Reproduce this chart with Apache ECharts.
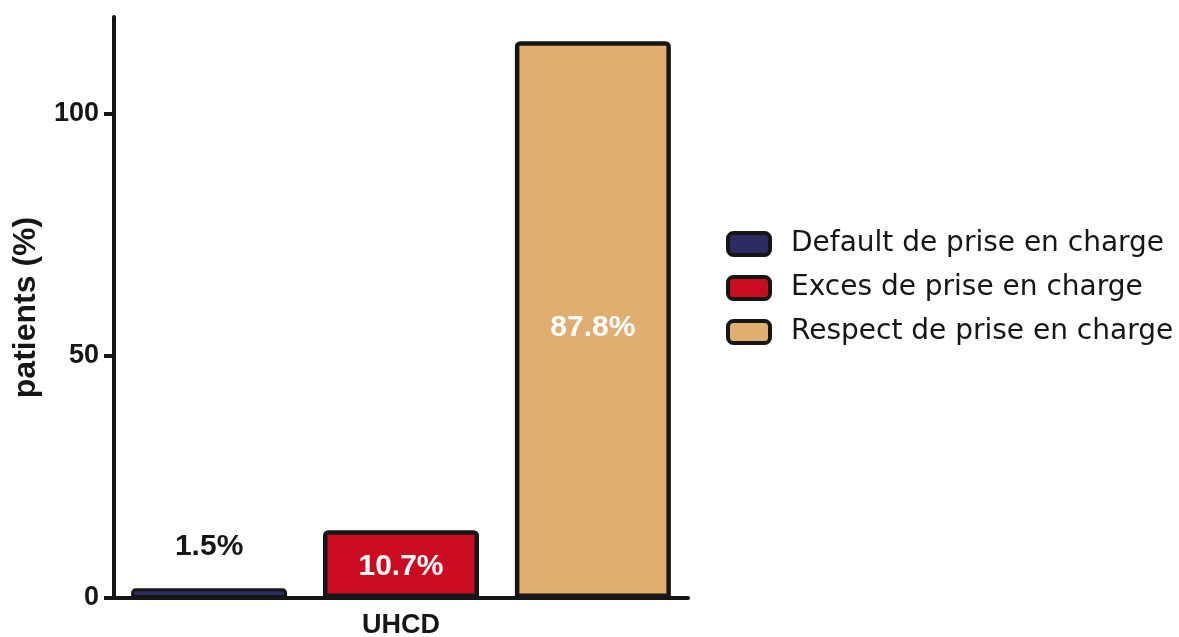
<!DOCTYPE html>
<html>
<head>
<meta charset="utf-8">
<script src="https://cdn.jsdelivr.net/npm/echarts@6/dist/echarts.min.js"></script>
<style>
html,body{margin:0;padding:0;background:#fff;}
#chart{width:1179px;height:637px;}
</style>
</head>
<body>
<div id="chart"></div>
<script>
const categories = ['UHCD'];
const seriesNames = ['Default de prise en charge', 'Exces de prise en charge', 'Respect de prise en charge'];
const seriesValues = [2, 14, 115];
const seriesLabels = ['1.5%', '10.7%', '87.8%'];
const seriesColors = ['#2e2b62', '#cb0b22', '#e1ae72'];
const yTicks = [0, 50, 100];
const yAxisTitle = 'patients (%)';

const ink = '#161616';
const labelConf = [
  { show: true, position: 'top', distance: 27, color: ink },
  { show: true, position: 'inside', color: '#ffffff', offset: [0, 3] },
  { show: true, position: 'inside', color: '#ffffff', offset: [0, 8] }
];
const borderWidths = [3, 4.5, 4.5];

const series = seriesNames.map((name, i) => ({
  name: name,
  type: 'bar',
  data: [seriesValues[i]],
  barWidth: 156,
  barGap: '23%',
  itemStyle: {
    color: seriesColors[i],
    borderColor: ink,
    borderWidth: borderWidths[i],
    borderRadius: [3, 3, 0, 0]
  },
  label: Object.assign({
    formatter: () => seriesLabels[i],
    fontFamily: 'Liberation Sans',
    fontWeight: 'bold',
    fontSize: 30
  }, labelConf[i]),
  emphasis: { disabled: true }
}));

const chart = echarts.init(document.getElementById('chart'), null, { renderer: 'canvas' });
chart.setOption({
  animation: false,
  backgroundColor: '#ffffff',
  grid: { left: 114, right: 491, top: 17, bottom: 39, containLabel: false, outerBoundsMode: 'none' },
  legend: {
    orient: 'vertical',
    left: 726,
    top: 230,
    padding: 0,
    itemWidth: 42,
    itemHeight: 22,
    itemGap: 16,
    icon: 'roundRect',
    selectedMode: false,
    itemStyle: { borderColor: ink, borderWidth: 4 },
    textStyle: {
      fontFamily: 'DejaVu Sans',
      fontSize: 28,
      color: ink,
      padding: [0, 0, 0, 16]
    },
    data: seriesNames
  },
  xAxis: {
    type: 'category',
    data: categories,
    axisLine: { lineStyle: { color: ink, width: 4 } },
    axisTick: { alignWithLabel: true, length: 9, lineStyle: { color: ink, width: 4 } },
    axisLabel: {
      margin: 14,
      fontFamily: 'Liberation Sans',
      fontWeight: 'bold',
      fontSize: 27,
      color: ink
    }
  },
  yAxis: {
    type: 'value',
    min: 0,
    max: 120,
    interval: 50,
    name: yAxisTitle,
    nameLocation: 'middle',
    nameRotate: 90,
    nameGap: 72,
    nameTextStyle: {
      fontFamily: 'Liberation Sans',
      fontWeight: 'bold',
      fontSize: 32,
      color: ink
    },
    splitLine: { show: false },
    axisLine: { show: true, lineStyle: { color: ink, width: 4 } },
    axisTick: { show: true, length: 10, customValues: yTicks, lineStyle: { color: ink, width: 4 } },
    axisLabel: {
      customValues: yTicks,
      margin: 15,
      fontFamily: 'Liberation Sans',
      fontWeight: 'bold',
      fontSize: 27,
      color: ink
    }
  },
  series: series
});
</script>
</body>
</html>
